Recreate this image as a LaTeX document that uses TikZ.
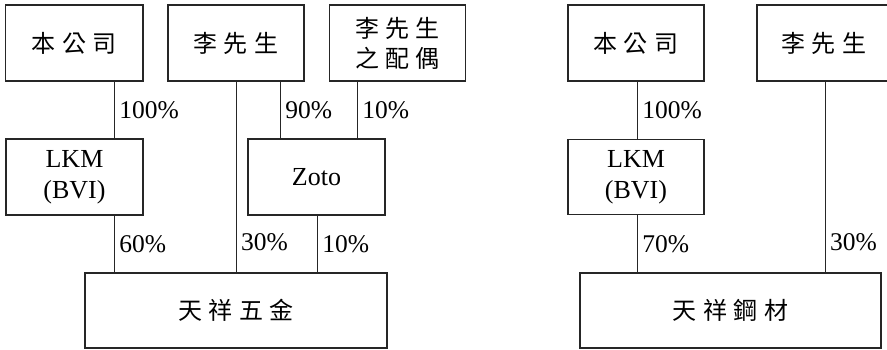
\documentclass[tikz,border=0pt]{standalone}
\usepackage{fontspec}
\setmainfont{Liberation Serif}
\newfontfamily\cjk{Noto Sans CJK TC}
\newcommand\cg{\hspace{6.5pt}}
\begin{document}
\begin{tikzpicture}[x=1pt,y=-1pt,
  box/.style={draw=black!85, line width=1.3pt, inner sep=0pt, align=center,
    font=\fontsize{26}{31}\selectfont},
  conn/.style={draw=black!85, line width=0.8pt},
  pct/.style={anchor=west, inner sep=0pt, font=\fontsize{25.5}{30}\selectfont}]
\useasboundingbox (0,0) rectangle (887,349);
\clip (0,0) rectangle (887,349);
% left diagram
\node[box, minimum width=137.5pt, minimum height=76pt] (a1) at (74.25,43) {\cjk\fontsize{24}{31}\selectfont 本\cg 公\cg 司};
\node[box, minimum width=136pt, minimum height=76pt] (a2) at (236,43) {\cjk\fontsize{24}{31}\selectfont 李\cg 先\cg 生};
\node[box, minimum width=136.5pt, minimum height=76pt] (a3) at (397.5,43) {\cjk\fontsize{24}{31}\selectfont 李\cg 先\cg 生\\[-1pt]\cjk\fontsize{24}{31}\selectfont 之\cg 配\cg 偶};
\node[box, minimum width=137pt, minimum height=76pt] (a4) at (74.5,177) {LKM\\(BVI)};
\node[box, minimum width=137pt, minimum height=76pt] (a5) at (316.5,177) {Zoto};
\node[box, minimum width=302pt, minimum height=75pt] (a6) at (236,310.5) {\cjk\fontsize{24}{31}\selectfont 天\cg 祥\cg 五\cg 金};
% right diagram
\node[box, minimum width=136pt, minimum height=76pt] (b1) at (636,43) {\cjk\fontsize{24}{31}\selectfont 本\cg 公\cg 司};
\node[box, minimum width=134pt, minimum height=76pt] (b2) at (824,43) {\cjk\fontsize{24}{31}\selectfont 李\cg 先\cg 生};
\node[box, minimum width=136pt, minimum height=75pt] (b3) at (636,177) {LKM\\(BVI)};
\node[box, minimum width=301pt, minimum height=75pt] (b4) at (730.5,310.5) {\cjk\fontsize{24}{31}\selectfont 天\cg 祥\cg 鋼\cg 材};
% connectors left
\draw[conn] (a1.south -| 114,0) -- (a4.north -| 114,0) node[pct, midway, xshift=5pt] {100\%};
\draw[conn] (a4.south -| 114,0) -- (a6.north -| 114,0) node[pct, midway, xshift=5pt] {60\%};
\draw[conn] (a2.south -| 236,0) -- (a6.north -| 236,0) coordinate[pos=0.84] (m30);
\node[pct, xshift=5pt] at (m30) {30\%};
\draw[conn] (a2.south -| 280,0) -- (a5.north -| 280,0) node[pct, midway, xshift=5pt] {90\%};
\draw[conn] (a3.south -| 357,0) -- (a5.north -| 357,0) node[pct, midway, xshift=5pt] {10\%};
\draw[conn] (a5.south -| 317,0) -- (a6.north -| 317,0) node[pct, midway, xshift=5pt] {10\%};
% connectors right
\draw[conn] (b1.south -| 637,0) -- (b3.north -| 637,0) node[pct, midway, xshift=5pt] {100\%};
\draw[conn] (b3.south -| 637,0) -- (b4.north -| 637,0) node[pct, midway, xshift=5pt] {70\%};
\draw[conn] (b2.south -| 825,0) -- (b4.north -| 825,0) coordinate[pos=0.84] (n30);
\node[pct, xshift=5pt] at (n30) {30\%};
\end{tikzpicture}
\end{document}
